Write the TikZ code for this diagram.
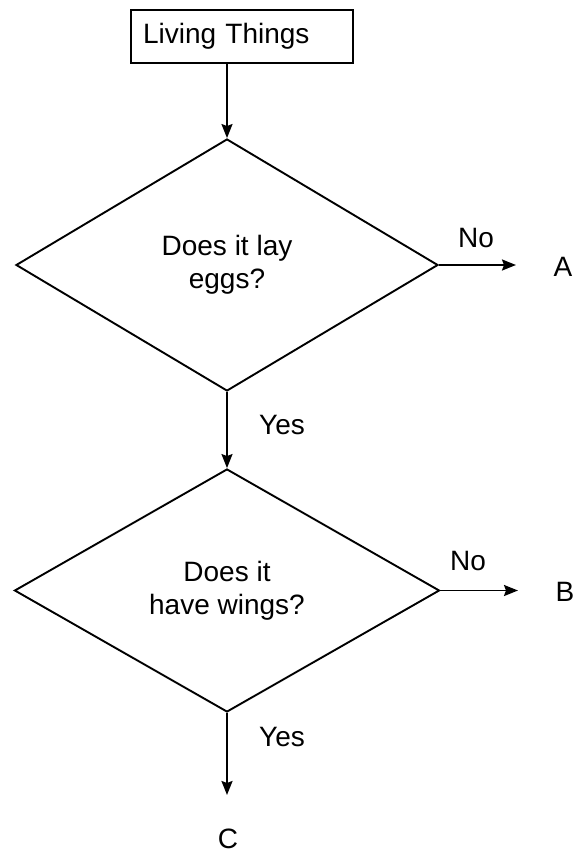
\documentclass[tikz,border=0pt]{standalone}
\usepackage{fontspec}
\setmainfont{Liberation Sans}
\usetikzlibrary{shapes.geometric,arrows.meta}
\begin{document}
\begin{tikzpicture}[x=1pt,y=-1pt,
  every node/.style={font=\fontsize{28}{33}\selectfont, text=black},
  line/.style={draw=black, line width=1.9pt},
  arrowline/.style={line, -{Stealth[length=14pt,width=11pt,inset=2pt]}},
  decision/.style={diamond, line, inner sep=0pt, align=center},
  startbox/.style={rectangle, line, minimum height=53pt, text width=198pt, inner xsep=12pt, align=left},
  lbl/.style={inner sep=0pt}
]
\useasboundingbox (0,0) rectangle (575,853);

\node[startbox] (box) at (242,36.5) {Living Things};

\node[decision, minimum width=422pt, minimum height=252pt] (d1) at (227,265) {Does it lay\\eggs?};
\node[decision, minimum width=425pt, minimum height=243pt] (d2) at (227,590.5) {Does it\\have wings?};

\coordinate (aend) at (516,267);
\coordinate (bend) at (518,590.5);
\coordinate (cend) at (227,795);

\draw[arrowline] (d1.north |- box.south) -- (d1.north);
\draw[arrowline] (d1.east) -- (d1.east -| aend);
\draw[arrowline] (d1.south) -- (d2.north);
\draw[arrowline] (d2.east) -- (bend);
\draw[arrowline] (d2.south) -- (cend);

\node[lbl] (no1) at (476,238) {No};
\node[lbl] (la) at (563,267) {A};
\node[lbl] (yes1) at (282,425) {Yes};
\node[lbl] (no2) at (468,561) {No};
\node[lbl] (lb) at (565,592) {B};
\node[lbl] (yes2) at (282,737) {Yes};
\node[lbl] (lc) at (228,839) {C};
\end{tikzpicture}
\end{document}
